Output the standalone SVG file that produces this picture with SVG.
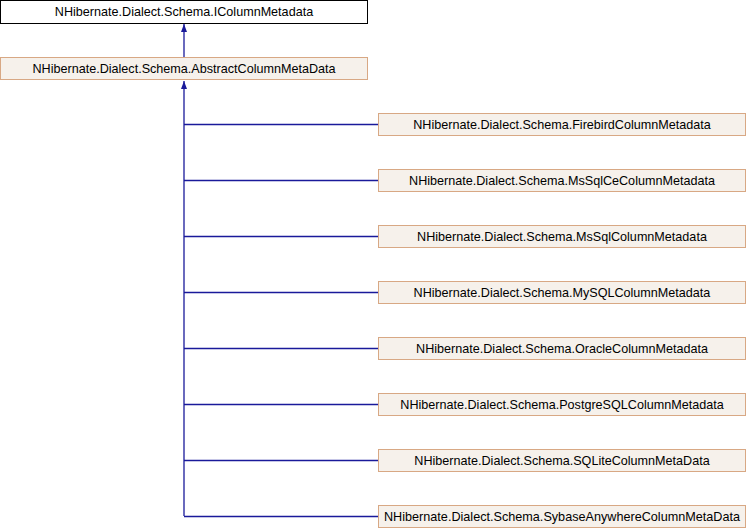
<svg xmlns="http://www.w3.org/2000/svg" width="746" height="528" viewBox="0 0 746 528">
<style>
text{font-family:"Liberation Sans",Arial,sans-serif;font-size:12.6px;fill:#000;text-anchor:middle}
.n rect{fill:#f6f1eb;stroke:#d8a884;stroke-width:1}
.top rect{fill:#fff;stroke:#000;stroke-width:1}
.e{fill:none;stroke:#1a1a9a;stroke-width:1.3}
</style>
<defs>
<marker id="ah" viewBox="0 0 8 8" refX="8" refY="4" markerWidth="8" markerHeight="8" markerUnits="userSpaceOnUse" orient="auto">
<path d="M0,1 L8,4 L0,7 Z" fill="#1a1a9a"/>
</marker>
</defs>
<g id="connectors">
<path class="e" d="M184,57 V24" marker-end="url(#ah)"/>
<path class="e" d="M184,516 V81" marker-end="url(#ah)"/>
<path class="e" d="M184,124.5 H378"/>
<path class="e" d="M184,180.5 H378"/>
<path class="e" d="M184,236.5 H378"/>
<path class="e" d="M184,292.5 H378"/>
<path class="e" d="M184,348.5 H378"/>
<path class="e" d="M184,404.5 H378"/>
<path class="e" d="M184,460.5 H378"/>
<path class="e" d="M184,516.5 H378"/>
</g>
<g id="IColumnMetadata" class="top"><rect x="0.5" y="0.5" width="367" height="23"/><text x="184" y="16.3">NHibernate.Dialect.Schema.IColumnMetadata</text></g>
<g id="AbstractColumnMetaData" class="n"><rect x="0.5" y="57.5" width="367" height="22"/><text x="184" y="73">NHibernate.Dialect.Schema.AbstractColumnMetaData</text></g>
<g id="FirebirdColumnMetadata" class="n"><rect x="378.5" y="113.5" width="367" height="22"/><text x="562" y="129">NHibernate.Dialect.Schema.FirebirdColumnMetadata</text></g>
<g id="MsSqlCeColumnMetadata" class="n"><rect x="378.5" y="169.5" width="367" height="22"/><text x="562" y="185">NHibernate.Dialect.Schema.MsSqlCeColumnMetadata</text></g>
<g id="MsSqlColumnMetadata" class="n"><rect x="378.5" y="225.5" width="367" height="22"/><text x="562" y="241">NHibernate.Dialect.Schema.MsSqlColumnMetadata</text></g>
<g id="MySQLColumnMetadata" class="n"><rect x="378.5" y="281.5" width="367" height="22"/><text x="562" y="297">NHibernate.Dialect.Schema.MySQLColumnMetadata</text></g>
<g id="OracleColumnMetadata" class="n"><rect x="378.5" y="337.5" width="367" height="22"/><text x="562" y="353">NHibernate.Dialect.Schema.OracleColumnMetadata</text></g>
<g id="PostgreSQLColumnMetadata" class="n"><rect x="378.5" y="393.5" width="367" height="22"/><text x="562" y="409">NHibernate.Dialect.Schema.PostgreSQLColumnMetadata</text></g>
<g id="SQLiteColumnMetaData" class="n"><rect x="378.5" y="449.5" width="367" height="22"/><text x="562" y="465">NHibernate.Dialect.Schema.SQLiteColumnMetaData</text></g>
<g id="SybaseAnywhereColumnMetaData" class="n"><rect x="378.5" y="505.5" width="367" height="22"/><text x="562" y="521" textLength="356" lengthAdjust="spacingAndGlyphs">NHibernate.Dialect.Schema.SybaseAnywhereColumnMetaData</text></g>
</svg>
